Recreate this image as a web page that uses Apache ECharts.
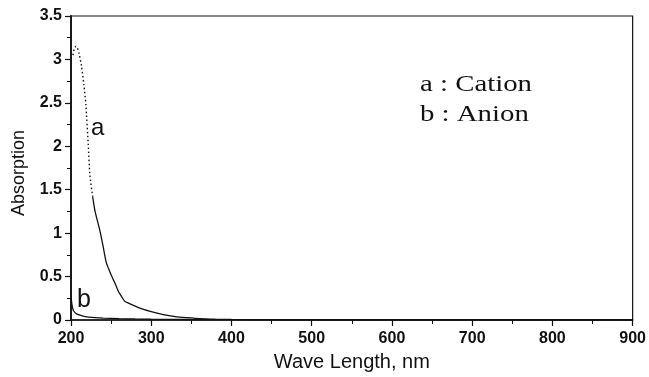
<!DOCTYPE html>
<html>
<head>
<meta charset="utf-8">
<script src="https://cdn.jsdelivr.net/npm/echarts@6/dist/echarts.min.js"></script>
<style>html,body{margin:0;padding:0;background:#fff;}#c{width:649px;height:377px;}</style>
</head>
<body>
<div id="c"></div>
<script>
// Wavelength (nm) and absorption values
var cationX = [202.5, 204, 206, 208, 210, 213, 216, 218.5, 221.5, 223.5, 227, 230, 236, 240, 244, 250, 255, 259, 263, 267, 275, 285, 300, 315, 330, 345, 360, 380, 400, 450, 500, 600, 700, 800, 900];
var cationY = [3.05, 3.12, 3.15, 3.13, 3.07, 2.93, 2.71, 2.48, 2.02, 1.67, 1.42, 1.25, 1.03, 0.85, 0.66, 0.52, 0.42, 0.33, 0.27, 0.215, 0.18, 0.14, 0.095, 0.062, 0.04, 0.027, 0.016, 0.01, 0.007, 0.004, 0.002, 0.001, 0.0005, 0.0003, 0.0002];
var anionX = [200.3, 201, 202, 203, 205, 207, 210, 215, 220, 230, 240, 260, 280, 300, 350, 400, 500, 600, 700, 800, 900];
var anionY = [0.25, 0.19, 0.14, 0.11, 0.085, 0.07, 0.058, 0.045, 0.036, 0.028, 0.022, 0.016, 0.012, 0.01, 0.006, 0.004, 0.002, 0.001, 0.0008, 0.0005, 0.0003];
var dottedEndIndex = 10; // upper part of curve a appears dotted in the scan
var xTicks = [200, 300, 400, 500, 600, 700, 800, 900];
var yTicks = [0, 0.5, 1, 1.5, 2, 2.5, 3, 3.5];

function pairs(xs, ys, from, to) {
  var out = [];
  for (var i = from; i < to; i++) out.push([xs[i], ys[i]]);
  return out;
}

var chart = echarts.init(document.getElementById('c'));
var labelFont = {fontFamily: 'Liberation Sans, Arial, sans-serif', fontSize: 16, fontWeight: 'bold', color: '#111'};
chart.setOption({
  animation: false,
  backgroundColor: '#fff',
  grid: {left: 71, right: 15, top: 16, bottom: 54, show: true, borderColor: '#111', borderWidth: 1.2, backgroundColor: 'transparent'},
  xAxis: {
    type: 'value', min: xTicks[0], max: xTicks[xTicks.length - 1], interval: 100,
    name: 'Wave Length, nm', nameLocation: 'middle', nameGap: 32,
    nameTextStyle: {fontFamily: 'Liberation Sans, Arial, sans-serif', fontSize: 20, color: '#111'},
    axisLine: {show: true, lineStyle: {color: '#111', width: 1.5}},
    axisTick: {show: true, inside: false, length: 6, lineStyle: {color: '#111', width: 1.2}},
    minorTick: {show: true, splitNumber: 2, length: 4, lineStyle: {color: '#111', width: 1}},
    axisLabel: Object.assign({margin: 11}, labelFont),
    splitLine: {show: false}
  },
  yAxis: {
    type: 'value', min: yTicks[0], max: yTicks[yTicks.length - 1], interval: 0.5,
    name: 'Absorption', nameLocation: 'middle', nameGap: 43, nameRotate: 90,
    nameTextStyle: {fontFamily: 'Liberation Sans, Arial, sans-serif', fontSize: 18, color: '#111', padding: [0, 0, 0, -10]},
    axisLine: {show: true, lineStyle: {color: '#111', width: 1.8}},
    axisTick: {show: true, inside: false, length: 6, lineStyle: {color: '#111', width: 1.2}},
    minorTick: {show: true, splitNumber: 2, length: 4, lineStyle: {color: '#111', width: 1}},
    axisLabel: Object.assign({margin: 9}, labelFont),
    splitLine: {show: false}
  },
  series: [
    {name: 'a : Cation (upper)', type: 'line', symbol: 'none', smooth: 0.2,
     data: pairs(cationX, cationY, 0, dottedEndIndex + 1),
     lineStyle: {color: '#111', width: 1.4, type: [1.5, 2.5]}},
    {name: 'a : Cation', type: 'line', symbol: 'none', smooth: 0.2,
     data: pairs(cationX, cationY, dottedEndIndex, cationX.length),
     lineStyle: {color: '#111', width: 1.3}},
    {name: 'b : Anion', type: 'line', symbol: 'none', smooth: 0.2,
     data: pairs(anionX, anionY, 0, anionX.length),
     lineStyle: {color: '#111', width: 1.3}}
  ],
  graphic: [
    {type: 'text', x: 420, y: 85, scaleX: 1.2, style: {text: 'a : Cation', font: '24px "Liberation Serif", "Times New Roman", serif', fill: '#111', align: 'left', verticalAlign: 'middle'}},
    {type: 'text', x: 420, y: 115, scaleX: 1.2, style: {text: 'b : Anion', font: '24px "Liberation Serif", "Times New Roman", serif', fill: '#111', align: 'left', verticalAlign: 'middle'}},
    {type: 'text', x: 91, y: 128, style: {text: 'a', font: '24px "Liberation Sans", Arial, sans-serif', fill: '#111', align: 'left', verticalAlign: 'middle'}},
    {type: 'text', x: 77, y: 300, style: {text: 'b', font: '25px "Liberation Sans", Arial, sans-serif', fill: '#111', align: 'left', verticalAlign: 'middle'}}
  ]
});
</script>
</body>
</html>
